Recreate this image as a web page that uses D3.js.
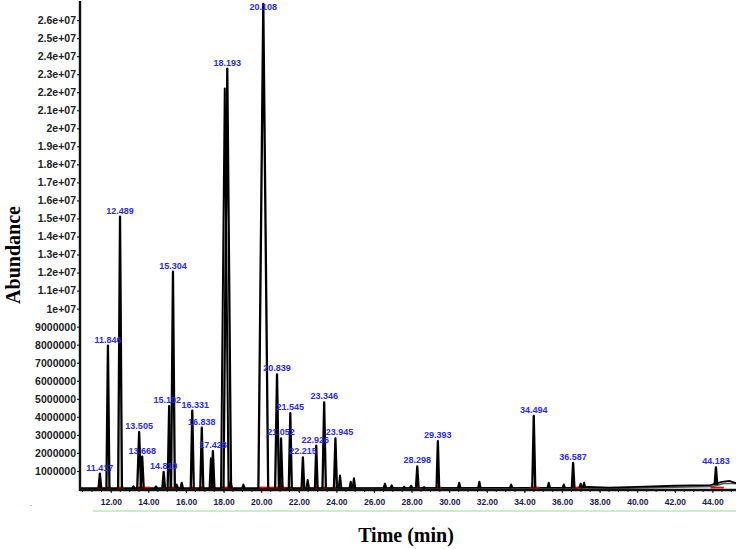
<!DOCTYPE html>
<html>
<head>
<meta charset="utf-8">
<script src="https://cdn.jsdelivr.net/npm/d3@7"></script>
<style>
  body { margin: 0; background: #fff; }
  svg { display: block; }
</style>
</head>
<body>
<div id="chart"></div>
<script>
// labelled peaks: retention time (min), abundance (x1e6), half base width (min)
const peakLabels = ["11.417","11.846","12.489","13.505","13.668","14.810","15.102","15.304",
  "16.331","16.838","17.428","18.193","20.108","20.839","21.052","21.545","22.215","22.926",
  "23.346","23.945","28.298","29.393","34.494","36.587","44.183"];
const peakAbund = [0.85, 7.95, 15.1, 3.15, 1.8, 0.95, 4.6, 12.05,
  4.35, 3.4, 2.1, 23.3, 26.9, 6.35, 2.8, 4.2, 1.75, 2.4,
  4.8, 2.8, 1.25, 2.65, 4.05, 1.45, 1.2];
const peakHalfWidth = [0.07, 0.08, 0.1, 0.1, 0.08, 0.07, 0.08, 0.1,
  0.08, 0.08, 0.08, 0.2, 0.26, 0.1, 0.08, 0.08, 0.07, 0.07,
  0.09, 0.08, 0.07, 0.07, 0.08, 0.07, 0.07];

// unlabelled small peaks and shoulders
const minorTimes = [13.2, 14.4, 15.5, 15.77, 17.32, 18.06, 18.37, 19.05, 22.47, 24.19,
  24.76, 24.93, 26.58, 26.94, 27.6, 27.97, 28.66, 30.53, 31.6, 33.29, 35.29, 36.09, 36.99, 37.17];
const minorAbund = [0.15, 0.15, 0.25, 0.35, 1.7, 22.2, 0.45, 0.25, 0.5, 0.75,
  0.4, 0.6, 0.3, 0.2, 0.12, 0.18, 0.1, 0.35, 0.4, 0.25, 0.35, 0.25, 0.3, 0.35];

// baseline drift (main trace and second, grey trace at the end)
const baseTimes = [10.4, 36.8, 37.4, 38.5, 40.0, 42.0, 43.9, 44.5, 44.9, 45.3];
const baseAbund = [0.05, 0.06, 0.12, 0.08, 0.12, 0.18, 0.22, 0.4, 0.45, 0.3];
const base2Times = [37.0, 38.5, 40.0, 42.0, 44.0, 44.6, 45.3];
const base2Abund = [0.05, 0.02, 0.05, 0.1, 0.14, 0.3, 0.3];

// red integration baselines
const redStart = [11.3, 11.75, 12.35, 13.4, 14.7, 15.0, 16.25, 16.75, 17.25, 17.9, 19.9, 21.45, 22.1, 22.85, 23.25, 23.85, 28.2, 29.3, 34.3, 36.5, 43.9];
const redEnd   = [11.55, 12.0, 12.7, 14.1, 14.9, 15.6, 16.45, 16.95, 17.55, 18.5, 21.3, 21.65, 22.3, 23.05, 23.5, 24.05, 28.45, 29.55, 34.8, 37.1, 44.6];
const redSpikeTime = 21.0, redSpikeAbund = 0.55;

const yTicks = d3.range(1, 27).map(d => d * 1e6);
const xTicks = d3.range(12, 45, 2);

const width = 736, height = 549;
const left = 80, right = 736, zeroY = 489, topY = 2;

// small horizontal nudges for crowded peak labels (px)
const labelNudge = { "15.102": -2, "16.331": 3, "22.926": -1, "23.945": 4 };

const svg = d3.select("#chart").append("svg")
  .attr("width", width)
  .attr("height", height);

const x = d3.scaleLinear().domain([10.36, 45.25]).range([left, right]);
const y = d3.scaleLinear().domain([0, 27e6]).range([zeroY, topY]);

const line = d3.line().x(d => x(d[0])).y(d => y(d[1] * 1e6));

// baseline traces
svg.append("path")
  .attr("d", line(base2Times.map((t, i) => [t, base2Abund[i]])))
  .attr("fill", "none").attr("stroke", "#555").attr("stroke-width", 1.5);
svg.append("path")
  .attr("d", line(baseTimes.map((t, i) => [t, baseAbund[i]])))
  .attr("fill", "none").attr("stroke", "#000").attr("stroke-width", 1.8);

// red integration marks
svg.selectAll("line.red")
  .data(redStart)
  .join("line")
  .attr("class", "red")
  .attr("x1", d => x(d)).attr("x2", (d, i) => x(redEnd[i]))
  .attr("y1", y(0.08e6)).attr("y2", y(0.08e6))
  .attr("stroke", "#e00").attr("stroke-width", 1.8);
svg.append("path")
  .attr("d", line([[redSpikeTime - 0.12, 0.05], [redSpikeTime, redSpikeAbund], [redSpikeTime + 0.15, 0.05]]))
  .attr("fill", "#e00").attr("stroke", "#e00").attr("stroke-width", 1);

// minor peaks
svg.selectAll("path.minor")
  .data(minorTimes)
  .join("path")
  .attr("class", "minor")
  .attr("d", (t, i) => {
    const hw = minorAbund[i] > 5 ? 0.2 : 0.07;
    return line([[t - hw, 0.05], [t, minorAbund[i]], [t + hw, 0.05]]);
  })
  .attr("fill", "none").attr("stroke", "#000").attr("stroke-width", 2)
  .attr("stroke-linejoin", "round");

// labelled peaks
const peakTimes = peakLabels.map(Number);
svg.selectAll("path.peak")
  .data(peakTimes)
  .join("path")
  .attr("class", "peak")
  .attr("d", (t, i) => {
    const hw = peakHalfWidth[i];
    const b = t > 43 ? 0.22 : 0.05;
    return line([[t - hw, b], [t, peakAbund[i]], [t + hw, b]]);
  })
  .attr("fill", "none").attr("stroke", "#000").attr("stroke-width", 2.3)
  .attr("stroke-linejoin", "round");

svg.selectAll("text.plabel")
  .data(peakLabels)
  .join("text")
  .attr("class", "plabel")
  .attr("x", (d, i) => x(peakTimes[i]) + (labelNudge[d] || 0))
  .attr("y", (d, i) => Math.max(y(peakAbund[i] * 1e6) - 3, 10))
  .attr("text-anchor", "middle")
  .attr("font-family", "Liberation Sans, Arial, sans-serif")
  .attr("font-weight", "bold")
  .attr("font-size", "9px")
  .attr("fill", "#2a2aff")
  .text(d => d);

// Y-axis
const yAxis = d3.axisLeft(y)
  .tickValues(yTicks)
  .tickSize(3)
  .tickPadding(1)
  .tickFormat(v => v < 1e7 ? String(v) : (v / 1e7) + "e+07");
const gy = svg.append("g")
  .attr("transform", `translate(${left},0)`)
  .call(yAxis);
gy.select(".domain").remove();
gy.selectAll("text")
  .attr("font-family", "Liberation Sans, Arial, sans-serif")
  .attr("font-weight", "bold")
  .attr("font-size", "10.5px")
  .attr("fill", "#222");
gy.selectAll("line").attr("stroke", "#222").attr("stroke-width", 1.2);
svg.append("line")
  .attr("x1", left).attr("x2", left).attr("y1", 1).attr("y2", zeroY + 2)
  .attr("stroke", "#111").attr("stroke-width", 2.4);

// X-axis
const xAxis = d3.axisBottom(x)
  .tickValues(xTicks)
  .tickSize(3)
  .tickPadding(6)
  .tickFormat(d3.format(".2f"));
const gx = svg.append("g")
  .attr("transform", `translate(0,${zeroY + 1})`)
  .call(xAxis);
gx.select(".domain").remove();
gx.selectAll("text")
  .attr("font-family", "Liberation Sans, Arial, sans-serif")
  .attr("font-weight", "bold")
  .attr("font-size", "8.5px")
  .attr("fill", "#1c1c4a");
gx.selectAll("line").attr("stroke", "#222").attr("stroke-width", 1);
svg.append("g")
  .selectAll("line")
  .data(d3.range(10.5, 45.3, 0.5))
  .join("line")
  .attr("x1", d => x(d)).attr("x2", d => x(d))
  .attr("y1", zeroY + 1).attr("y2", zeroY + 3)
  .attr("stroke", "#333").attr("stroke-width", 1);
svg.append("line")
  .attr("x1", left).attr("x2", right).attr("y1", zeroY + 1).attr("y2", zeroY + 1)
  .attr("stroke", "#111").attr("stroke-width", 2.4);

// thin green line under the tick labels
svg.append("line")
  .attr("x1", 93).attr("x2", right).attr("y1", 511).attr("y2", 511)
  .attr("stroke", "#8de08d").attr("stroke-width", 1);
svg.append("rect")
  .attr("x", 30).attr("y", 505).attr("width", 2).attr("height", 1)
  .attr("fill", "#8de08d");

// axis titles
svg.append("text")
  .text("Time (min)")
  .attr("x", 406).attr("y", 542)
  .attr("text-anchor", "middle")
  .attr("font-family", "Liberation Serif, Times New Roman, serif")
  .attr("font-weight", "bold")
  .attr("font-size", "20px")
  .attr("fill", "#000");

svg.append("text")
  .text("Abundance")
  .attr("transform", "translate(20,255) rotate(-90)")
  .attr("text-anchor", "middle")
  .attr("font-family", "Liberation Serif, Times New Roman, serif")
  .attr("font-weight", "bold")
  .attr("font-size", "20px")
  .attr("fill", "#000");
</script>
</body>
</html>
